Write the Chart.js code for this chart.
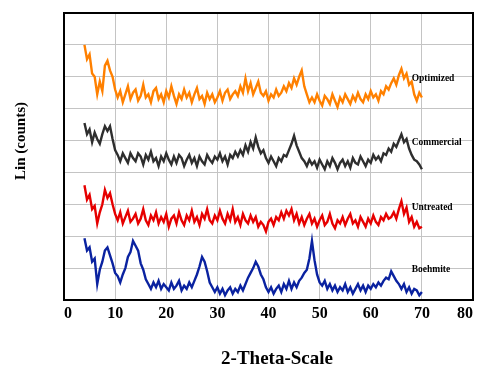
<!DOCTYPE html>
<html>
<head>
<meta charset="utf-8">
<script src="https://cdn.jsdelivr.net/npm/chart.js@4"></script>
<style>
    body { margin: 0; background: #fff; }
    .chart-box { width: 477px; height: 367px; position: relative; }
</style>
</head>
<body>
<div class="chart-box"><canvas id="xrd-chart"></canvas></div>
<script>
// 2-theta positions (deg)
const twoTheta = [
    4, 4.5, 5, 5.5, 6, 6.5, 7, 7.5, 8, 8.5,
    9, 9.5, 10, 10.5, 11, 11.5, 12, 12.5, 13, 13.5,
    14, 14.5, 15, 15.5, 16, 16.5, 17, 17.5, 18, 18.5,
    19, 19.5, 20, 20.5, 21, 21.5, 22, 22.5, 23, 23.5,
    24, 24.5, 25, 25.5, 26, 26.5, 27, 27.5, 28, 28.5,
    29, 29.5, 30, 30.5, 31, 31.5, 32, 32.5, 33, 33.5,
    34, 34.5, 35, 35.5, 36, 36.5, 37, 37.5, 38, 38.5,
    39, 39.5, 40, 40.5, 41, 41.5, 42, 42.5, 43, 43.5,
    44, 44.5, 45, 45.5, 46, 46.5, 47, 47.5, 48, 48.5,
    49, 49.5, 50, 50.5, 51, 51.5, 52, 52.5, 53, 53.5,
    54, 54.5, 55, 55.5, 56, 56.5, 57, 57.5, 58, 58.5,
    59, 59.5, 60, 60.5, 61, 61.5, 62, 62.5, 63, 63.5,
    64, 64.5, 65, 65.5, 66, 66.5, 67, 67.5, 68, 68.5,
    69, 69.5, 70
];

// intensities, already stacked (one grid step = one offset unit)
const optimized = [
    8.0, 7.55, 7.7, 7.1, 7.0, 6.45, 6.85, 6.55, 7.35, 7.5,
    7.2, 7.0, 6.6, 6.35, 6.55, 6.2, 6.45, 6.7, 6.3, 6.5,
    6.6, 6.25, 6.4, 6.75, 6.35, 6.45, 6.2, 6.55, 6.65, 6.3,
    6.45, 6.2, 6.55, 6.35, 6.7, 6.4, 6.15, 6.45, 6.3, 6.6,
    6.35, 6.5, 6.2, 6.45, 6.65, 6.3, 6.4, 6.15, 6.5, 6.3,
    6.45, 6.2, 6.35, 6.55, 6.25, 6.5, 6.6, 6.3, 6.45, 6.55,
    6.4, 6.7, 6.5, 6.95, 6.55, 6.8, 6.45, 6.65, 6.85, 6.5,
    6.4, 6.55, 6.25, 6.45, 6.35, 6.6, 6.4, 6.5, 6.7, 6.55,
    6.8, 6.65, 6.95, 6.75, 7.0, 7.2, 6.7, 6.45, 6.2, 6.35,
    6.2, 6.45, 6.25, 6.1, 6.4, 6.3, 6.15, 6.45, 6.25, 6.05,
    6.35, 6.2, 6.45, 6.3, 6.15, 6.4, 6.25, 6.5, 6.3, 6.2,
    6.45, 6.3, 6.55, 6.35, 6.45, 6.25, 6.55, 6.45, 6.7, 6.6,
    6.8, 6.95, 6.75, 7.05, 7.25, 6.95, 7.1, 6.75, 6.85, 6.45,
    6.25, 6.5, 6.35
];
const commercial = [
    5.55, 5.2, 5.35, 4.95, 5.25, 5.05, 4.9, 5.2, 5.45, 5.3,
    5.45, 5.05, 4.7, 4.55, 4.35, 4.6, 4.45, 4.3, 4.6, 4.45,
    4.35, 4.6, 4.5, 4.25, 4.55, 4.4, 4.65, 4.35, 4.45, 4.2,
    4.5, 4.35, 4.6, 4.4, 4.25, 4.5, 4.3, 4.55, 4.45, 4.2,
    4.4, 4.55, 4.3, 4.45, 4.2, 4.5, 4.35, 4.25, 4.55, 4.4,
    4.3, 4.5, 4.4, 4.6, 4.35, 4.5, 4.25, 4.55, 4.45, 4.65,
    4.5, 4.7, 4.55, 4.85, 4.65, 4.95, 4.75, 5.1, 4.8, 4.6,
    4.7, 4.45, 4.3, 4.5, 4.35, 4.2, 4.45, 4.35, 4.55, 4.5,
    4.7, 4.9, 5.15, 4.85, 4.65, 4.45, 4.35, 4.2, 4.4, 4.25,
    4.35, 4.15, 4.4, 4.25, 4.1, 4.35, 4.2, 4.45, 4.3, 4.1,
    4.3, 4.4, 4.2, 4.35, 4.15, 4.45, 4.3, 4.25, 4.5, 4.35,
    4.2, 4.4, 4.3, 4.55, 4.4, 4.5, 4.35, 4.6, 4.55, 4.75,
    4.65, 4.9, 4.8, 5.0, 5.2, 4.95, 5.05, 4.75, 4.55, 4.4,
    4.35, 4.25, 4.1
];
const untreated = [
    3.6, 3.15, 3.3, 2.85, 2.95, 2.4, 2.75, 3.0, 3.45, 3.2,
    3.35, 3.0, 2.7, 2.5, 2.75, 2.4, 2.6, 2.8, 2.45, 2.55,
    2.7, 2.4, 2.55, 2.85, 2.5, 2.35, 2.65, 2.5, 2.75, 2.4,
    2.6, 2.45, 2.7, 2.3, 2.55, 2.65, 2.4, 2.75, 2.5, 2.35,
    2.65, 2.5, 2.8, 2.45, 2.6, 2.35, 2.7, 2.55, 2.85, 2.5,
    2.4, 2.65, 2.5, 2.8, 2.55, 2.4, 2.7, 2.5, 2.85, 2.45,
    2.6, 2.35, 2.7, 2.5, 2.4, 2.65, 2.45, 2.6, 2.3, 2.45,
    2.35, 2.15, 2.45, 2.55, 2.35, 2.6, 2.5, 2.75, 2.55, 2.8,
    2.65, 2.85, 2.5, 2.7, 2.4, 2.6, 2.35, 2.55, 2.7, 2.4,
    2.55, 2.3, 2.5, 2.65, 2.35, 2.45, 2.7, 2.4, 2.25, 2.5,
    2.4, 2.6, 2.35, 2.55, 2.7, 2.4, 2.5, 2.3, 2.6, 2.45,
    2.3, 2.55, 2.4, 2.65, 2.45, 2.35, 2.6, 2.5, 2.7, 2.55,
    2.6, 2.75, 2.55, 2.85, 3.1, 2.7, 2.9, 2.45, 2.6, 2.3,
    2.45, 2.25, 2.3
];
const boehmite = [
    1.94, 1.55, 1.65, 1.2, 1.3, 0.5, 0.95, 1.2, 1.55, 1.65,
    1.4, 1.15, 0.85, 0.75, 0.55, 0.8, 1.0, 1.35, 1.5, 1.85,
    1.7, 1.55, 1.15, 0.95, 0.65, 0.5, 0.35, 0.55, 0.4, 0.6,
    0.35, 0.5, 0.4, 0.3, 0.55, 0.35, 0.45, 0.6, 0.3, 0.45,
    0.35, 0.55, 0.4, 0.6, 0.8, 1.05, 1.35, 1.2, 0.9, 0.55,
    0.4, 0.25, 0.4, 0.2, 0.35, 0.15, 0.3, 0.4, 0.2, 0.35,
    0.25, 0.45, 0.3, 0.5, 0.7, 0.85, 1.0, 1.2, 1.05, 0.8,
    0.65, 0.4, 0.25, 0.4, 0.2, 0.35, 0.45, 0.25, 0.5, 0.35,
    0.6, 0.35, 0.55, 0.4, 0.6, 0.7, 0.85, 0.95, 1.3, 1.85,
    1.25, 0.8, 0.55, 0.45, 0.6, 0.35, 0.5, 0.3, 0.45, 0.25,
    0.4, 0.3, 0.5, 0.25, 0.4, 0.2, 0.35, 0.5, 0.3, 0.45,
    0.25, 0.45, 0.35, 0.5, 0.4, 0.55, 0.45, 0.6, 0.7, 0.65,
    0.9, 0.75, 0.6, 0.5, 0.35, 0.5, 0.25, 0.4, 0.2, 0.35,
    0.3, 0.15, 0.25
];

const seriesNames = ['Optimized', 'Commercial', 'Untreated', 'Boehmite'];
const seriesColors = ['#ff8000', '#2e2e2e', '#e60000', '#0a22a0'];
// where each name sits (2-theta, offset units)
const nameX = [68, 68, 68, 68];
const nameY = [6.96, 4.95, 2.9, 0.95];

const serif = "'Liberation Serif', 'Times New Roman', serif";

const toPoints = vals => twoTheta.map((t, i) => ({ x: t, y: vals[i] }));

const decorPlugin = {
    id: 'decor',
    afterDraw(chart) {
        const { ctx, chartArea: a, scales: { x, y } } = chart;
        ctx.save();
        // plot frame
        ctx.strokeStyle = '#000';
        ctx.lineWidth = 2;
        ctx.strokeRect(a.left, a.top, a.right - a.left, a.bottom - a.top);

        // series names
        ctx.fillStyle = '#000';
        ctx.font = `bold 9.5px ${serif}`;
        ctx.textAlign = 'left';
        ctx.textBaseline = 'middle';
        seriesNames.forEach((n, i) => {
            ctx.fillText(n, x.getPixelForValue(nameX[i]), y.getPixelForValue(nameY[i]));
        });

        // axis titles
        ctx.font = `bold 19px ${serif}`;
        ctx.textAlign = 'center';
        ctx.fillText('2-Theta-Scale', 277, 359);

        ctx.translate(21, 141);
        ctx.rotate(-Math.PI / 2);
        ctx.font = `bold 15px ${serif}`;
        ctx.fillText('Lin (counts)', 0, 0);
        ctx.restore();
    }
};

new Chart(document.getElementById('xrd-chart').getContext('2d'), {
    type: 'line',
    data: {
        datasets: [optimized, commercial, untreated, boehmite].map((vals, i) => ({
            label: seriesNames[i],
            data: toPoints(vals),
            borderColor: seriesColors[i],
            borderWidth: 2.4,
            pointRadius: 0,
            tension: 0,
            fill: false
        }))
    },
    options: {
        responsive: true,
        maintainAspectRatio: false,
        animation: false,
        layout: { padding: { top: 13, right: 4, left: 0, bottom: 0 } },
        plugins: {
            legend: { display: false },
            tooltip: { enabled: false }
        },
        scales: {
            x: {
                type: 'linear',
                min: 0,
                max: 80,
                ticks: {
                    stepSize: 10,
                    color: '#000',
                    padding: 4,
                    align: 'inner',
                    font: { family: serif, size: 16, weight: 'bold' }
                },
                grid: { color: '#c4c4c4', lineWidth: 1, drawTicks: false },
                border: { display: false },
                afterFit(s) { s.height = 67; s.paddingLeft = 0; s.paddingRight = 0; }
            },
            y: {
                min: 0,
                max: 9,
                ticks: { stepSize: 1, display: false },
                grid: { color: '#c4c4c4', lineWidth: 1, drawTicks: false },
                border: { display: false },
                afterFit(s) { s.width = 64; }
            }
        }
    },
    plugins: [decorPlugin]
});
</script>
</body>
</html>
